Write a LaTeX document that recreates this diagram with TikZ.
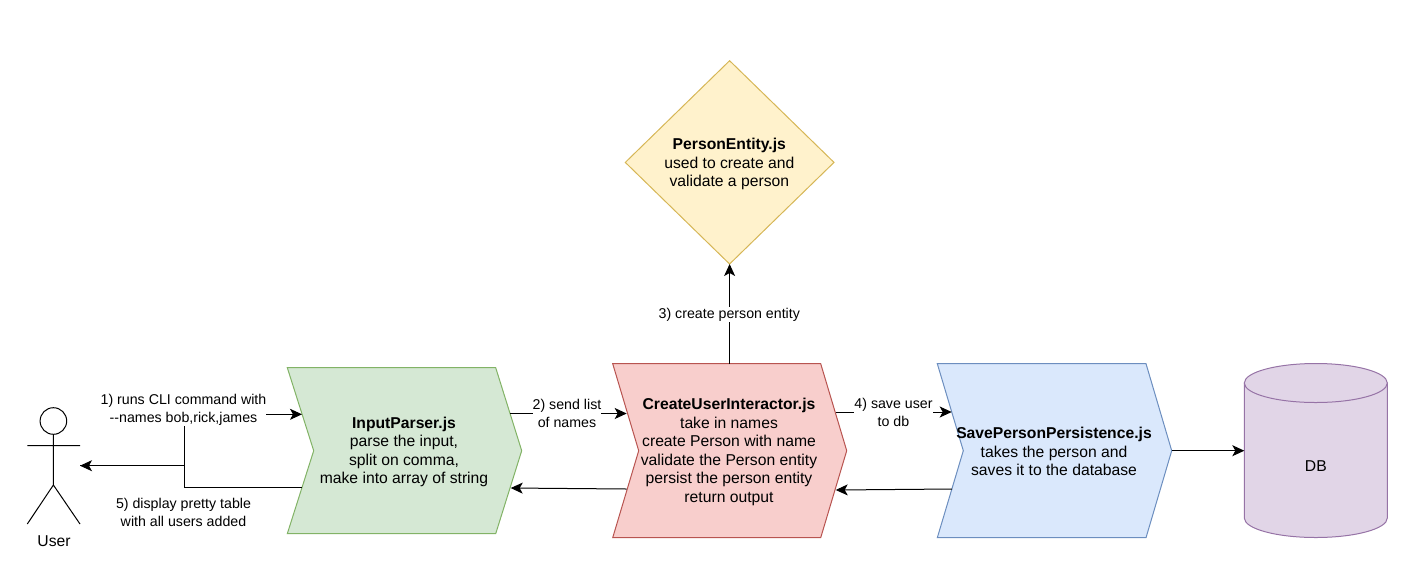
\documentclass[tikz,border=0pt]{standalone}
\usepackage{fontspec}
\setmainfont{Liberation Sans}
\usetikzlibrary{arrows.meta}
\definecolor{gfill}{HTML}{D5E8D4}\definecolor{gline}{HTML}{82B366}
\definecolor{rfill}{HTML}{F8CECC}\definecolor{rline}{HTML}{B85450}
\definecolor{bfill}{HTML}{DAE8FC}\definecolor{bline}{HTML}{6C8EBF}
\definecolor{yfill}{HTML}{FFF2CC}\definecolor{yline}{HTML}{D6B656}
\definecolor{pfill}{HTML}{E1D5E7}\definecolor{pline}{HTML}{9673A6}
\tikzset{
  shapeline/.style={line width=1pt,line join=miter},
  bodytext/.style={align=center,inner sep=0pt,font=\fontsize{15.7}{18.6}\selectfont},
  conn/.style={line width=1pt,black,-{Stealth[length=12pt,width=11pt,inset=3pt]}},
  plainconn/.style={line width=1pt,black},
  edgelabel/.style={align=center,fill=white,inner xsep=0pt,inner ysep=1pt,font=\fontsize{14.2}{18}\selectfont},
  actorline/.style={line width=1pt,black}
}
\begin{document}
\begin{tikzpicture}[x=1pt,y=-1pt]
\useasboundingbox (0,0) rectangle (1420,587);
% shapes
\draw[shapeline,draw=gline,fill=gfill] (287.3,367.7)--(495.7,367.7)--(521.7,450.7)--(495.7,533.7)--(287.3,533.7)--(313.7,450.7)--cycle;
\draw[shapeline,draw=rline,fill=rfill] (612.7,363.7)--(820.7,363.7)--(846.7,450.7)--(820.7,537.7)--(612.7,537.7)--(638.7,450.7)--cycle;
\draw[shapeline,draw=bline,fill=bfill] (937.3,363.7)--(1146,363.7)--(1171.7,450.7)--(1146,537.7)--(937.3,537.7)--(963.3,450.7)--cycle;
\draw[shapeline,draw=yline,fill=yfill] (625.3,162.4)--(729.6,60.7)--(834,162.4)--(729.6,264)--cycle;
\draw[shapeline,draw=pline,fill=pfill] (1244.3,383) -- (1244.3,518) arc[start angle=180,end angle=0,x radius=71.5,y radius=19.5] -- (1387.3,383) -- cycle;
\draw[shapeline,draw=pline,fill=pfill] (1315.8,383) ellipse[x radius=71.5,y radius=19.5];
% actor
\draw[actorline] (53.4,421) circle[radius=13.3];
\draw[actorline] (53.4,434.3)--(53.4,485) (27.3,445.7)--(80,445.7) (27.3,524)--(53.4,485)--(80,524);
% text nodes
\node[bodytext] (parser) at (404,452) {\textbf{InputParser.js}\\parse the input,\\split on comma,\\make into array of string};
\node[bodytext] (interactor) at (729,452) {\textbf{CreateUserInteractor.js}\\take in names\\create Person with name\\validate the Person entity\\persist the person entity\\return output};
\node[bodytext] (persistence) at (1054,451.5) {\textbf{SavePersonPersistence.js}\\takes the person and\\saves it to the database};
\node[bodytext] (entity) at (729.3,164) {\textbf{PersonEntity.js}\\used to create and\\validate a person};
\node[bodytext] (db) at (1315.8,466) {DB};
\node[bodytext] (user) at (54,541.5) {User};
% ports
\coordinate (actorR) at (80,465.7);
\coordinate (bend1) at (184,414.3);
\coordinate (bend5a) at (184,487.3);
\coordinate (bend5b) at (184,465.7);
\coordinate (parserInT) at (302,414.3);
\coordinate (parserInB) at (301.7,487.3);
\coordinate (parserOutT) at (510,413.5);
\coordinate (parserRetIn) at (510.7,488);
\coordinate (interInT) at (626.7,413.5);
\coordinate (interOutB) at (626.7,489);
\coordinate (interTop) at (729.6,363.7);
\coordinate (entityBot) at (729.6,264);
\coordinate (interOutT) at (835.7,412);
\coordinate (interRetIn) at (835.7,490);
\coordinate (persInT) at (951.7,412);
\coordinate (persOutB) at (952,489);
\coordinate (persTip) at (1171.7,450.7);
\coordinate (dbLeft) at (1244.3,450.7);
% connectors
\draw[plainconn] (actorR) -- (bend5b) -- (bend1);
\draw[conn] (bend1) -- (parserInT);
\draw[plainconn] (parserInB) -- (bend5a) -- (bend5b);
\draw[conn] (bend5b) -- (actorR);
\draw[conn] (parserOutT) -- (interInT);
\draw[conn] (interOutB) -- (parserRetIn);
\draw[conn] (interTop) -- (entityBot);
\draw[conn] (interOutT) -- (persInT);
\draw[conn] (persOutB) -- (interRetIn);
\draw[conn] (persTip) -- (dbLeft);
% labels
\node[edgelabel] (l1) at (183.5,409.5) {1) runs CLI command with\\{-}{-}names bob,rick,james};
\node[edgelabel] (l5) at (183.5,512) {5) display pretty table\\with all users added};
\node[edgelabel] (l2) at (567,413) {2) send list\\of names};
\node[edgelabel] (l3) at (729.3,314.5) {3) create person entity};
\node[edgelabel] (l4) at (893.5,412) {4) save user\\to db};
\end{tikzpicture}
\end{document}
